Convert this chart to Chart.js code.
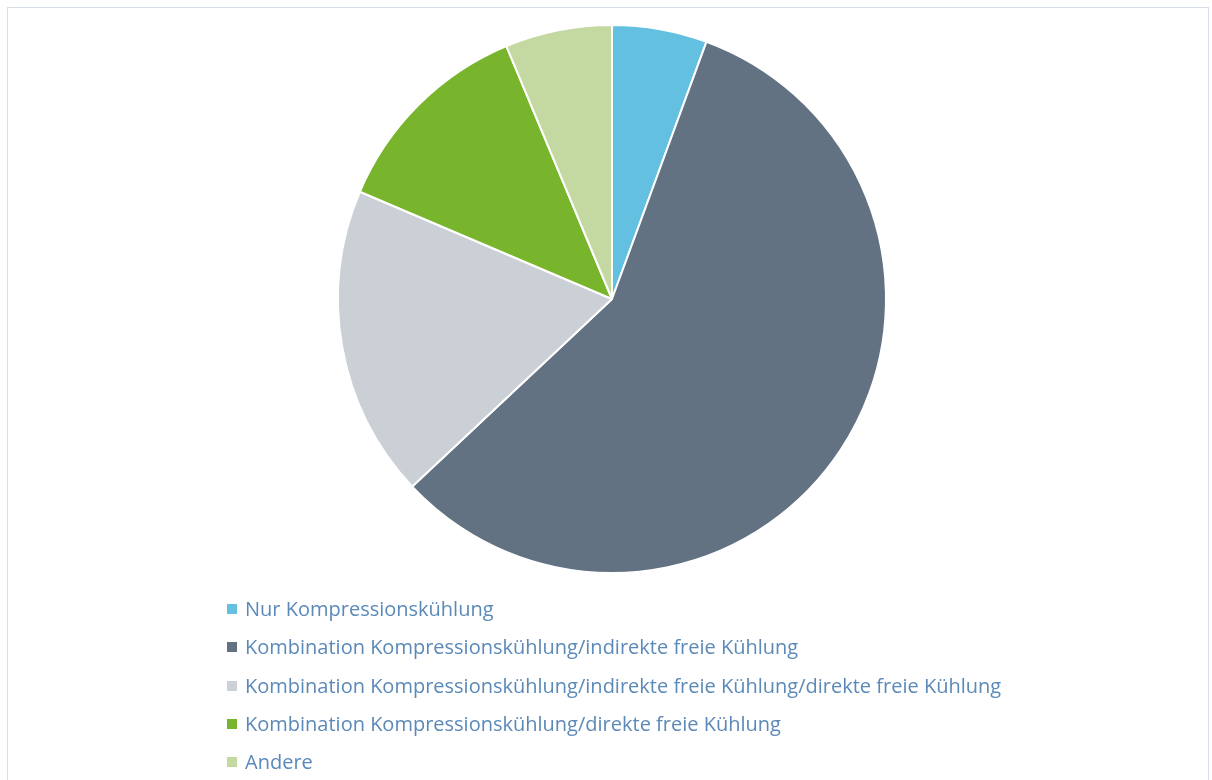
<!DOCTYPE html>
<html lang="de">
<head>
<meta charset="utf-8">
<title>Kühlungsarten</title>
<script src="https://cdn.jsdelivr.net/npm/chart.js@4/dist/chart.umd.min.js"></script>
<style>
  html, body { margin: 0; padding: 0; background: #fff; }
  #wrap { position: relative; width: 1212px; height: 780px; overflow: hidden; }
  #frame {
    position: absolute; left: 7px; top: 7px; width: 1202px; height: 800px;
    border: 1px solid #d6dfe7; box-sizing: border-box;
  }
  #pie { position: absolute; left: 0; top: 0; }
  #legend {
    position: absolute; left: 227px; top: 590px; margin: 0; padding: 0; list-style: none;
    font-family: "Open Sans", "Noto Sans", sans-serif; font-size: 20px; color: #5b89b8;
  }
  #legend li { height: 38.3px; line-height: 38px; white-space: nowrap; }
  #legend span.box { display: inline-block; width: 10px; height: 10px; margin-right: 8px; vertical-align: 2px; }
</style>
</head>
<body>
<div id="wrap">
  <div id="frame"></div>
  <canvas id="pie" width="1212" height="780"></canvas>
  <ul id="legend"></ul>
</div>
<script>
// Anteile der Kühlungsarten (%)
const kategorien = [
  'Nur Kompressionskühlung',
  'Kombination Kompressionskühlung/indirekte freie Kühlung',
  'Kombination Kompressionskühlung/indirekte freie Kühlung/direkte freie Kühlung',
  'Kombination Kompressionskühlung/direkte freie Kühlung',
  'Andere'
];
const anteile = [5.6, 57.4, 18.4, 12.3, 6.3];
const farben = ['#63c0e0', '#627282', '#cbd0d6', '#78b42c', '#c4d9a2'];

const ctx = document.getElementById('pie').getContext('2d');
const chart = new Chart(ctx, {
  type: 'pie',
  data: {
    labels: kategorien,
    datasets: [{
      data: anteile,
      backgroundColor: farben,
      borderColor: '#ffffff',
      borderWidth: 2
    }]
  },
  options: {
    responsive: false,
    animation: false,
    layout: { padding: { top: 24, bottom: 206, left: 12, right: 0 } },
    plugins: {
      legend: { display: false },
      tooltip: { enabled: false }
    }
  }
});

// Legende als Liste unter dem Diagramm
const legende = document.getElementById('legend');
kategorien.forEach((name, i) => {
  const li = document.createElement('li');
  const box = document.createElement('span');
  box.className = 'box';
  box.style.background = farben[i];
  li.appendChild(box);
  li.appendChild(document.createTextNode(name));
  legende.appendChild(li);
});
</script>
</body>
</html>
